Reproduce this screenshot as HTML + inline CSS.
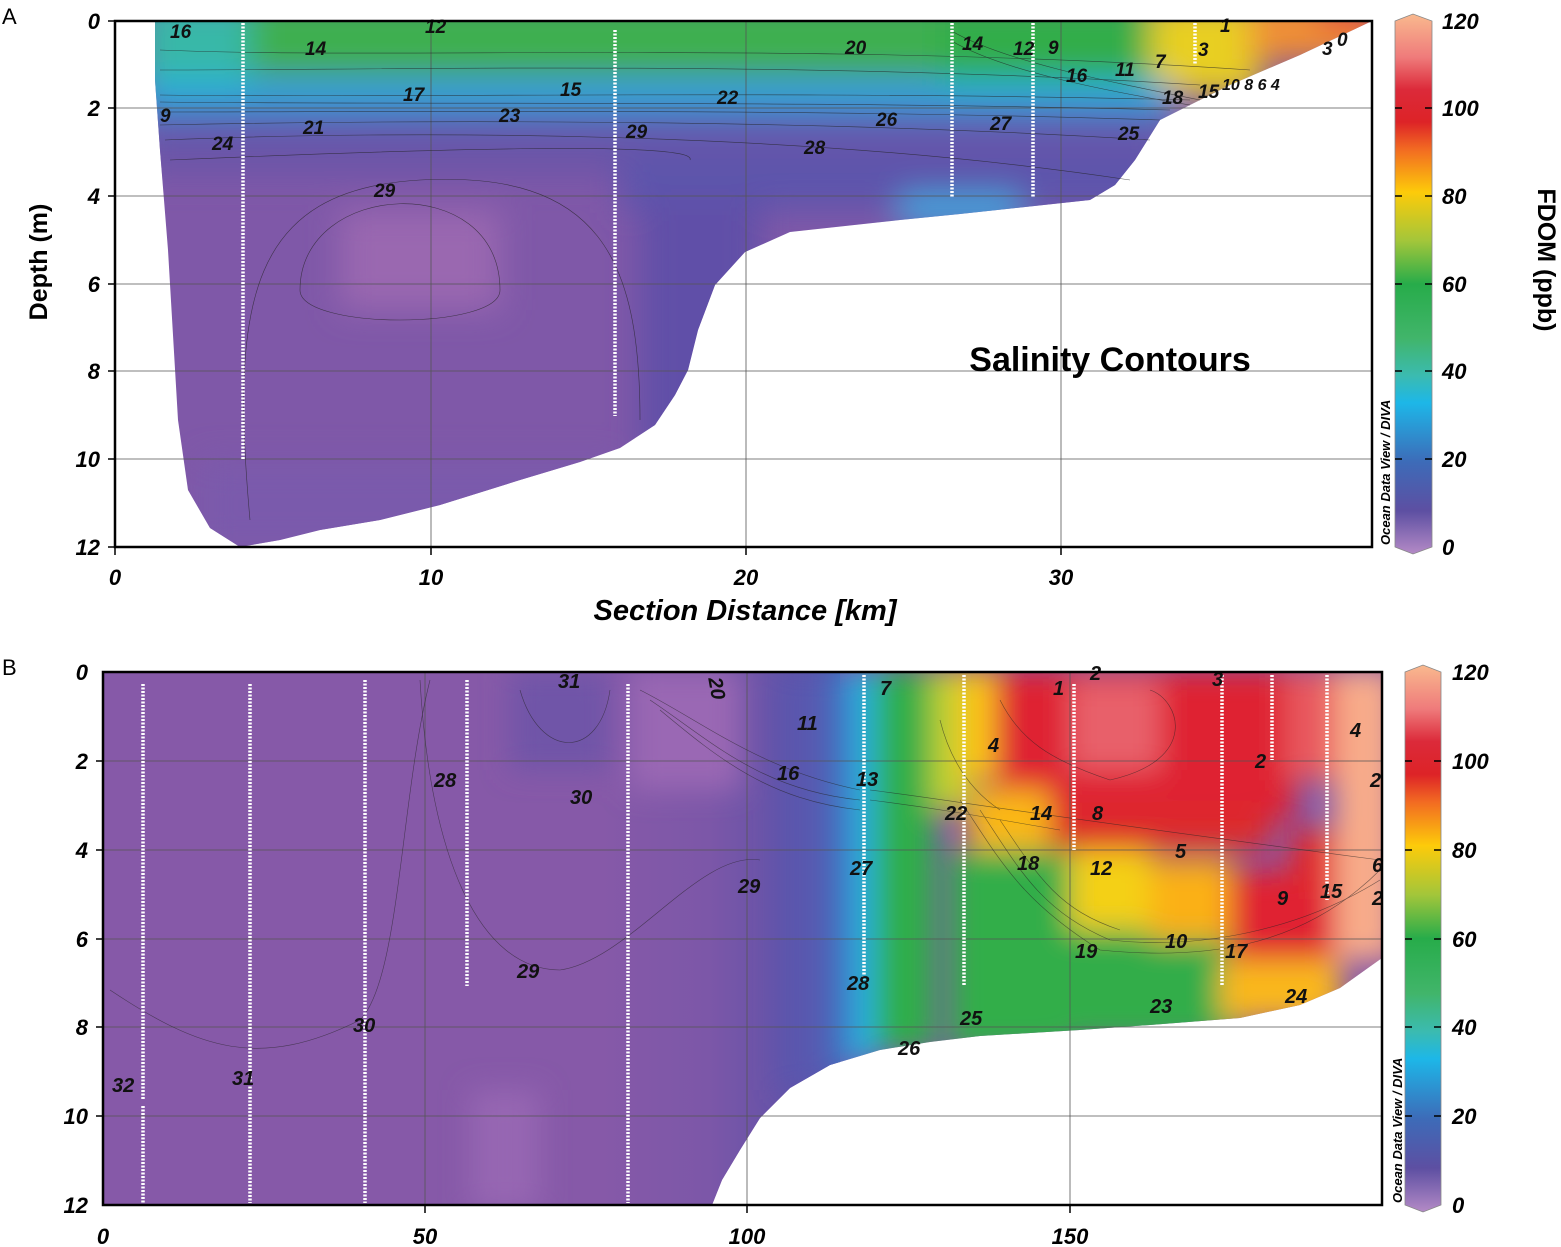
<!DOCTYPE html>
<html><head><meta charset="utf-8"><style>
html,body{margin:0;padding:0;background:#fff;width:1561px;height:1247px;overflow:hidden}
svg{display:block}
text{font-family:"Liberation Sans",sans-serif;font-weight:bold;font-style:italic}
.t{font-size:22px;fill:#000}
.c{font-size:19px;fill:#111}
</style></head><body>
<svg width="1561" height="1247" viewBox="0 0 1561 1247" xmlns="http://www.w3.org/2000/svg">
<defs>
<filter id="b1" x="-20%" y="-20%" width="140%" height="140%"><feGaussianBlur stdDeviation="16"/></filter>
<filter id="b2" x="-20%" y="-20%" width="140%" height="140%"><feGaussianBlur stdDeviation="14"/></filter>
<linearGradient id="cb" x1="0" y1="0" x2="0" y2="1">
<stop offset="0" stop-color="#f9b98e"/><stop offset="0.08" stop-color="#ef7b7b"/><stop offset="0.14" stop-color="#dc2a3a"/>
<stop offset="0.2" stop-color="#dd2327"/><stop offset="0.25" stop-color="#f26a22"/><stop offset="0.33" stop-color="#fdcb0a"/>
<stop offset="0.42" stop-color="#a3c63a"/><stop offset="0.5" stop-color="#27ac4a"/><stop offset="0.6" stop-color="#41b56a"/>
<stop offset="0.67" stop-color="#3bbbb0"/><stop offset="0.72" stop-color="#1db7e8"/><stop offset="0.83" stop-color="#3d6bb8"/>
<stop offset="0.92" stop-color="#5d4fa2"/><stop offset="1" stop-color="#b48ac6"/></linearGradient>
<linearGradient id="gB" x1="0" y1="0" x2="1" y2="0">
<stop offset="0" stop-color="#8659a8"/><stop offset="0.45" stop-color="#7c57a8"/><stop offset="0.8" stop-color="#6252a8"/><stop offset="1" stop-color="#5058b0"/></linearGradient>
<clipPath id="ca"><path d="M155,21 L1372,21 L1300,55 L1230,85 L1190,105 L1160,120 L1135,160 L1115,185 L1090,200 L960,214 L900,220 L790,232 L745,252 L715,285 L698,330 L688,370 L675,395 L655,425 L620,448 L580,462 L520,480 L440,505 L380,520 L320,530 L280,540 L240,547 L210,528 L188,490 L178,420 L168,250 L160,150 L155,80 Z"/></clipPath>
<clipPath id="cbB"><path d="M103,672 L1382,672 L1382,958 L1340,988 L1300,1005 L1240,1018 L1150,1025 L1080,1030 L980,1036 L930,1042 L880,1050 L830,1065 L790,1088 L760,1118 L740,1150 L722,1180 L712,1205 L103,1205 Z"/></clipPath>
</defs>

<g clip-path="url(#ca)">
<rect x="100" y="0" width="1300" height="560" fill="#7f58a8"/>
<g filter="url(#b1)">
<rect x="140" y="0" width="820" height="75" fill="#3cb050"/>
<rect x="140" y="0" width="110" height="85" fill="#38b8a8"/>
<rect x="940" y="0" width="220" height="85" fill="#30ad48"/>
<rect x="1150" y="0" width="110" height="95" fill="#e8cf20"/>
<rect x="1250" y="0" width="130" height="60" fill="#f29030"/>
<rect x="1320" y="0" width="60" height="30" fill="#e8503a"/>
<rect x="140" y="80" width="1030" height="24" fill="#28aee0"/>
<rect x="140" y="104" width="1030" height="24" fill="#4a70c0"/>
<rect x="140" y="125" width="1030" height="50" fill="#6a55a8"/>
<rect x="620" y="150" width="540" height="60" fill="#5d55ac"/>
<rect x="900" y="195" width="120" height="30" fill="#3aa8e0"/>
<rect x="640" y="200" width="120" height="260" fill="#6050a8"/>
<rect x="340" y="210" width="160" height="100" fill="#9a68b0"/>
<rect x="200" y="460" width="420" height="90" fill="#7a5aac"/>
</g>
</g>
<g stroke="#555" stroke-width="0.8">
<line x1="431" y1="21" x2="431" y2="547"/><line x1="746" y1="21" x2="746" y2="547"/><line x1="1061" y1="21" x2="1061" y2="547"/>
<line x1="115" y1="108" x2="1372" y2="108"/><line x1="115" y1="196" x2="1372" y2="196"/><line x1="115" y1="284" x2="1372" y2="284"/><line x1="115" y1="371" x2="1372" y2="371"/><line x1="115" y1="459" x2="1372" y2="459"/>
</g>
<g fill="none" stroke="#222" stroke-width="0.6" opacity="0.7">
<path d="M160,95 C400,98 800,90 1190,100"/><path d="M160,102 C400,105 800,100 1170,110"/>
<path d="M160,112 C400,112 800,108 1160,120"/><path d="M160,125 C400,120 800,118 1150,140"/>
<path d="M165,140 C400,130 800,130 1130,180"/><path d="M170,160 C400,150 700,140 690,160"/>
<path d="M160,70 C400,70 800,60 1200,85"/><path d="M160,50 C400,60 800,40 1250,70"/>
<path d="M950,30 C1000,60 1100,80 1200,100"/><path d="M950,40 C1000,70 1100,90 1190,105"/>
<path d="M300,290 C300,180 500,170 500,290 C500,330 300,330 300,290Z"/>
<path d="M250,520 C230,300 250,190 420,180 C600,170 640,260 640,420"/>
</g>
<g stroke="#fff" stroke-width="3.5" stroke-dasharray="2 1.5">
<line x1="243" y1="23" x2="243" y2="460"/><line x1="615" y1="30" x2="615" y2="416"/><line x1="952" y1="23" x2="952" y2="197"/><line x1="1033" y1="23" x2="1033" y2="197"/><line x1="1195" y1="23" x2="1195" y2="65"/>
</g>
<g class="c">
<text x="170" y="38">16</text><text x="305" y="55">14</text><text x="425" y="33">12</text>
<text x="845" y="54">20</text><text x="962" y="50">14</text><text x="1013" y="55">12</text><text x="1048" y="54">9</text>
<text x="1066" y="82">16</text><text x="1115" y="76">11</text><text x="1155" y="68">7</text><text x="1198" y="56">3</text>
<text x="1220" y="32">1</text><text x="1162" y="104">18</text><text x="1198" y="98">15</text><text x="1222" y="90" style="font-size:16px">10 8 6 4</text><text x="1322" y="55">3</text><text x="1337" y="46">0</text>
<text x="403" y="101">17</text><text x="560" y="96">15</text><text x="717" y="104">22</text>
<text x="160" y="122">9</text><text x="303" y="134">21</text><text x="499" y="122">23</text><text x="876" y="126">26</text><text x="990" y="130">27</text><text x="1118" y="140">25</text>
<text x="212" y="150">24</text><text x="626" y="138">29</text><text x="804" y="154">28</text><text x="374" y="197">29</text>
</g>
<rect x="115" y="21" width="1257" height="526" fill="none" stroke="#000" stroke-width="2.5"/>
<g stroke="#000" stroke-width="1.5">
<line x1="108" y1="21" x2="115" y2="21"/><line x1="108" y1="108" x2="115" y2="108"/><line x1="108" y1="196" x2="115" y2="196"/><line x1="108" y1="284" x2="115" y2="284"/><line x1="108" y1="371" x2="115" y2="371"/><line x1="108" y1="459" x2="115" y2="459"/><line x1="108" y1="547" x2="115" y2="547"/>
<line x1="115" y1="547" x2="115" y2="555"/><line x1="431" y1="547" x2="431" y2="555"/><line x1="746" y1="547" x2="746" y2="555"/><line x1="1061" y1="547" x2="1061" y2="555"/>
</g>
<g class="t" text-anchor="end">
<text x="100" y="29">0</text><text x="100" y="116">2</text><text x="100" y="204">4</text><text x="100" y="292">6</text><text x="100" y="379">8</text><text x="100" y="467">10</text><text x="100" y="555">12</text>
</g>
<g class="t" text-anchor="middle">
<text x="115" y="585">0</text><text x="431" y="585">10</text><text x="746" y="585">20</text><text x="1061" y="585">30</text>
</g>
<text x="745" y="620" text-anchor="middle" style="font-size:29px">Section Distance [km]</text>
<text transform="translate(47,262) rotate(-90)" text-anchor="middle" style="font-size:25px;font-style:normal">Depth (m)</text>
<text x="1110" y="371" text-anchor="middle" style="font-size:34px;font-style:normal">Salinity Contours</text>
<text x="2" y="24" style="font-size:22px;font-weight:normal;font-style:normal">A</text>
<path d="M1395,21 L1413,14 L1432,21 L1432,547 L1413,554 L1395,547 Z" fill="url(#cb)" stroke="#888" stroke-width="0.8"/>
<g stroke="#000" stroke-width="1.5">
<line x1="1395" y1="108" x2="1402" y2="108"/><line x1="1425" y1="108" x2="1432" y2="108"/><line x1="1395" y1="196" x2="1402" y2="196"/><line x1="1425" y1="196" x2="1432" y2="196"/><line x1="1395" y1="284" x2="1402" y2="284"/><line x1="1425" y1="284" x2="1432" y2="284"/><line x1="1395" y1="371" x2="1402" y2="371"/><line x1="1425" y1="371" x2="1432" y2="371"/><line x1="1395" y1="459" x2="1402" y2="459"/><line x1="1425" y1="459" x2="1432" y2="459"/>
</g>
<g class="t">
<text x="1442" y="29">120</text><text x="1442" y="116">100</text><text x="1442" y="204">80</text><text x="1442" y="292">60</text><text x="1442" y="379">40</text><text x="1442" y="467">20</text><text x="1442" y="555">0</text>
</g>
<text transform="translate(1390,545) rotate(-90)" style="font-size:13px">Ocean Data View / DIVA</text>
<text transform="translate(1538,260) rotate(90)" text-anchor="middle" style="font-size:25px;font-style:normal">FDOM (ppb)</text>

<g clip-path="url(#cbB)">
<rect x="100" y="660" width="1300" height="560" fill="#8659a8"/>
<rect x="600" y="660" width="240" height="560" fill="url(#gB)"/>
<g filter="url(#b2)">
<rect x="510" y="670" width="100" height="100" fill="#7054a8"/>
<rect x="630" y="670" width="110" height="120" fill="#9a68b4"/>
<rect x="780" y="670" width="50" height="420" fill="#5a56ae"/>
<rect x="825" y="670" width="30" height="400" fill="#3f6ec0"/>
<rect x="852" y="670" width="25" height="390" fill="#24b4e4"/>
<rect x="875" y="670" width="60" height="380" fill="#2fae4a"/>
<rect x="930" y="670" width="40" height="140" fill="#c0d030"/>
<rect x="960" y="670" width="40" height="110" fill="#fcc514"/>
<rect x="995" y="670" width="300" height="150" fill="#df2330"/>
<rect x="1070" y="680" width="90" height="90" fill="#e8606a"/>
<rect x="1030" y="810" width="240" height="40" fill="#dd2a2c"/>
<rect x="970" y="790" width="80" height="60" fill="#fbb818"/>
<rect x="950" y="850" width="120" height="200" fill="#30ae48"/>
<rect x="1070" y="850" width="80" height="80" fill="#f4d018"/>
<rect x="1060" y="930" width="180" height="110" fill="#33ad48"/>
<rect x="1150" y="860" width="80" height="80" fill="#fbb015"/>
<rect x="1230" y="870" width="110" height="90" fill="#e02030"/>
<rect x="1220" y="960" width="120" height="60" fill="#fab81a"/>
<rect x="1290" y="830" width="60" height="60" fill="#e02b2e"/>
<rect x="1335" y="670" width="60" height="290" fill="#f8ac8a"/>
<rect x="1285" y="670" width="50" height="110" fill="#e8585e"/>
<rect x="470" y="1090" width="70" height="120" fill="#9666b2"/>
</g>
</g>
<g stroke="#555" stroke-width="0.8">
<line x1="425" y1="672" x2="425" y2="1205"/><line x1="747" y1="672" x2="747" y2="1205"/><line x1="1070" y1="672" x2="1070" y2="1205"/>
<line x1="103" y1="761" x2="1382" y2="761"/><line x1="103" y1="850" x2="1382" y2="850"/><line x1="103" y1="939" x2="1382" y2="939"/><line x1="103" y1="1027" x2="1382" y2="1027"/><line x1="103" y1="1116" x2="1382" y2="1116"/>
</g>
<g fill="none" stroke="#222" stroke-width="0.6" opacity="0.6">
<path d="M640,690 C700,720 760,770 860,790"/><path d="M650,700 C710,740 760,790 860,800"/><path d="M660,710 C720,760 770,800 860,810"/>
<path d="M870,790 C950,800 1000,810 1380,860"/><path d="M870,800 C950,810 1000,820 1060,830"/>
<path d="M960,800 C1000,860 1020,900 1100,950 C1200,960 1300,950 1380,870"/>
<path d="M980,810 C1020,870 1040,910 1110,940 C1200,950 1300,930 1380,880"/>
<path d="M1000,820 C1040,880 1060,910 1120,930"/>
<path d="M940,720 C950,760 970,790 1000,810"/>
<path d="M1000,700 C1020,740 1050,760 1110,780 C1200,760 1180,700 1150,690"/>
<path d="M110,990 C200,1050 260,1070 360,1020 C400,980 400,800 430,680"/>
<path d="M520,690 C540,760 600,760 610,690"/>
<path d="M420,680 C430,860 480,970 560,970 C630,960 700,850 760,860"/>
</g>
<g stroke="#fff" stroke-width="3.5" stroke-dasharray="2 1.5">
<line x1="143" y1="684" x2="143" y2="1100"/><line x1="143" y1="1106" x2="143" y2="1203"/><line x1="250" y1="684" x2="250" y2="1203"/><line x1="365" y1="680" x2="365" y2="1203"/><line x1="467" y1="680" x2="467" y2="986"/><line x1="628" y1="684" x2="628" y2="1203"/>
<line x1="864" y1="675" x2="864" y2="980"/><line x1="964" y1="675" x2="964" y2="985"/><line x1="1074" y1="684" x2="1074" y2="850"/><line x1="1222" y1="675" x2="1222" y2="985"/><line x1="1272" y1="675" x2="1272" y2="760"/><line x1="1327" y1="675" x2="1327" y2="900"/>
</g>
<g class="c" style="font-size:20px">
<text x="558" y="688">31</text><text x="702" y="690" transform="rotate(80 712 688)">20</text><text x="880" y="695">7</text><text x="797" y="730">11</text><text x="777" y="780">16</text>
<text x="434" y="787">28</text><text x="570" y="804">30</text><text x="856" y="786">13</text><text x="945" y="820">22</text><text x="1030" y="820">14</text><text x="1092" y="820">8</text>
<text x="988" y="752">4</text><text x="1053" y="695">1</text><text x="1090" y="680">2</text><text x="1212" y="686">3</text><text x="1350" y="737">4</text><text x="1255" y="768">2</text><text x="1370" y="787">2</text>
<text x="1175" y="858">5</text><text x="1017" y="870">18</text><text x="1090" y="875">12</text><text x="850" y="875">27</text><text x="738" y="893">29</text><text x="1277" y="905">9</text><text x="1320" y="898">15</text><text x="1372" y="872">6</text><text x="1372" y="905">2</text>
<text x="1165" y="948">10</text><text x="1075" y="958">19</text><text x="1225" y="958">17</text><text x="517" y="978">29</text><text x="847" y="990">28</text><text x="1150" y="1013">23</text><text x="1285" y="1003">24</text>
<text x="353" y="1032">30</text><text x="960" y="1025">25</text><text x="898" y="1055">26</text><text x="232" y="1085">31</text><text x="112" y="1092">32</text>
</g>
<rect x="103" y="672" width="1279" height="533" fill="none" stroke="#000" stroke-width="2.5"/>
<g stroke="#000" stroke-width="1.5">
<line x1="96" y1="761" x2="103" y2="761"/><line x1="96" y1="850" x2="103" y2="850"/><line x1="96" y1="939" x2="103" y2="939"/><line x1="96" y1="1027" x2="103" y2="1027"/><line x1="96" y1="1116" x2="103" y2="1116"/>
<line x1="425" y1="1205" x2="425" y2="1213"/><line x1="747" y1="1205" x2="747" y2="1213"/><line x1="1070" y1="1205" x2="1070" y2="1213"/>
</g>
<g class="t" text-anchor="end">
<text x="88" y="680">0</text><text x="88" y="769">2</text><text x="88" y="858">4</text><text x="88" y="947">6</text><text x="88" y="1035">8</text><text x="88" y="1124">10</text><text x="88" y="1213">12</text>
</g>
<g class="t" text-anchor="middle">
<text x="103" y="1244">0</text><text x="425" y="1244">50</text><text x="747" y="1244">100</text><text x="1070" y="1244">150</text>
</g>
<text x="2" y="675" style="font-size:22px;font-weight:normal;font-style:normal">B</text>
<path d="M1405,672 L1423,665 L1441,672 L1441,1205 L1423,1212 L1405,1205 Z" fill="url(#cb)" stroke="#888" stroke-width="0.8"/>
<g stroke="#000" stroke-width="1.5">
<line x1="1405" y1="761" x2="1412" y2="761"/><line x1="1434" y1="761" x2="1441" y2="761"/><line x1="1405" y1="850" x2="1412" y2="850"/><line x1="1434" y1="850" x2="1441" y2="850"/><line x1="1405" y1="939" x2="1412" y2="939"/><line x1="1434" y1="939" x2="1441" y2="939"/><line x1="1405" y1="1027" x2="1412" y2="1027"/><line x1="1434" y1="1027" x2="1441" y2="1027"/><line x1="1405" y1="1116" x2="1412" y2="1116"/><line x1="1434" y1="1116" x2="1441" y2="1116"/>
</g>
<g class="t">
<text x="1452" y="680">120</text><text x="1452" y="769">100</text><text x="1452" y="858">80</text><text x="1452" y="947">60</text><text x="1452" y="1035">40</text><text x="1452" y="1124">20</text><text x="1452" y="1213">0</text>
</g>
<text transform="translate(1402,1203) rotate(-90)" style="font-size:13px">Ocean Data View / DIVA</text>
</svg>
</body></html>
